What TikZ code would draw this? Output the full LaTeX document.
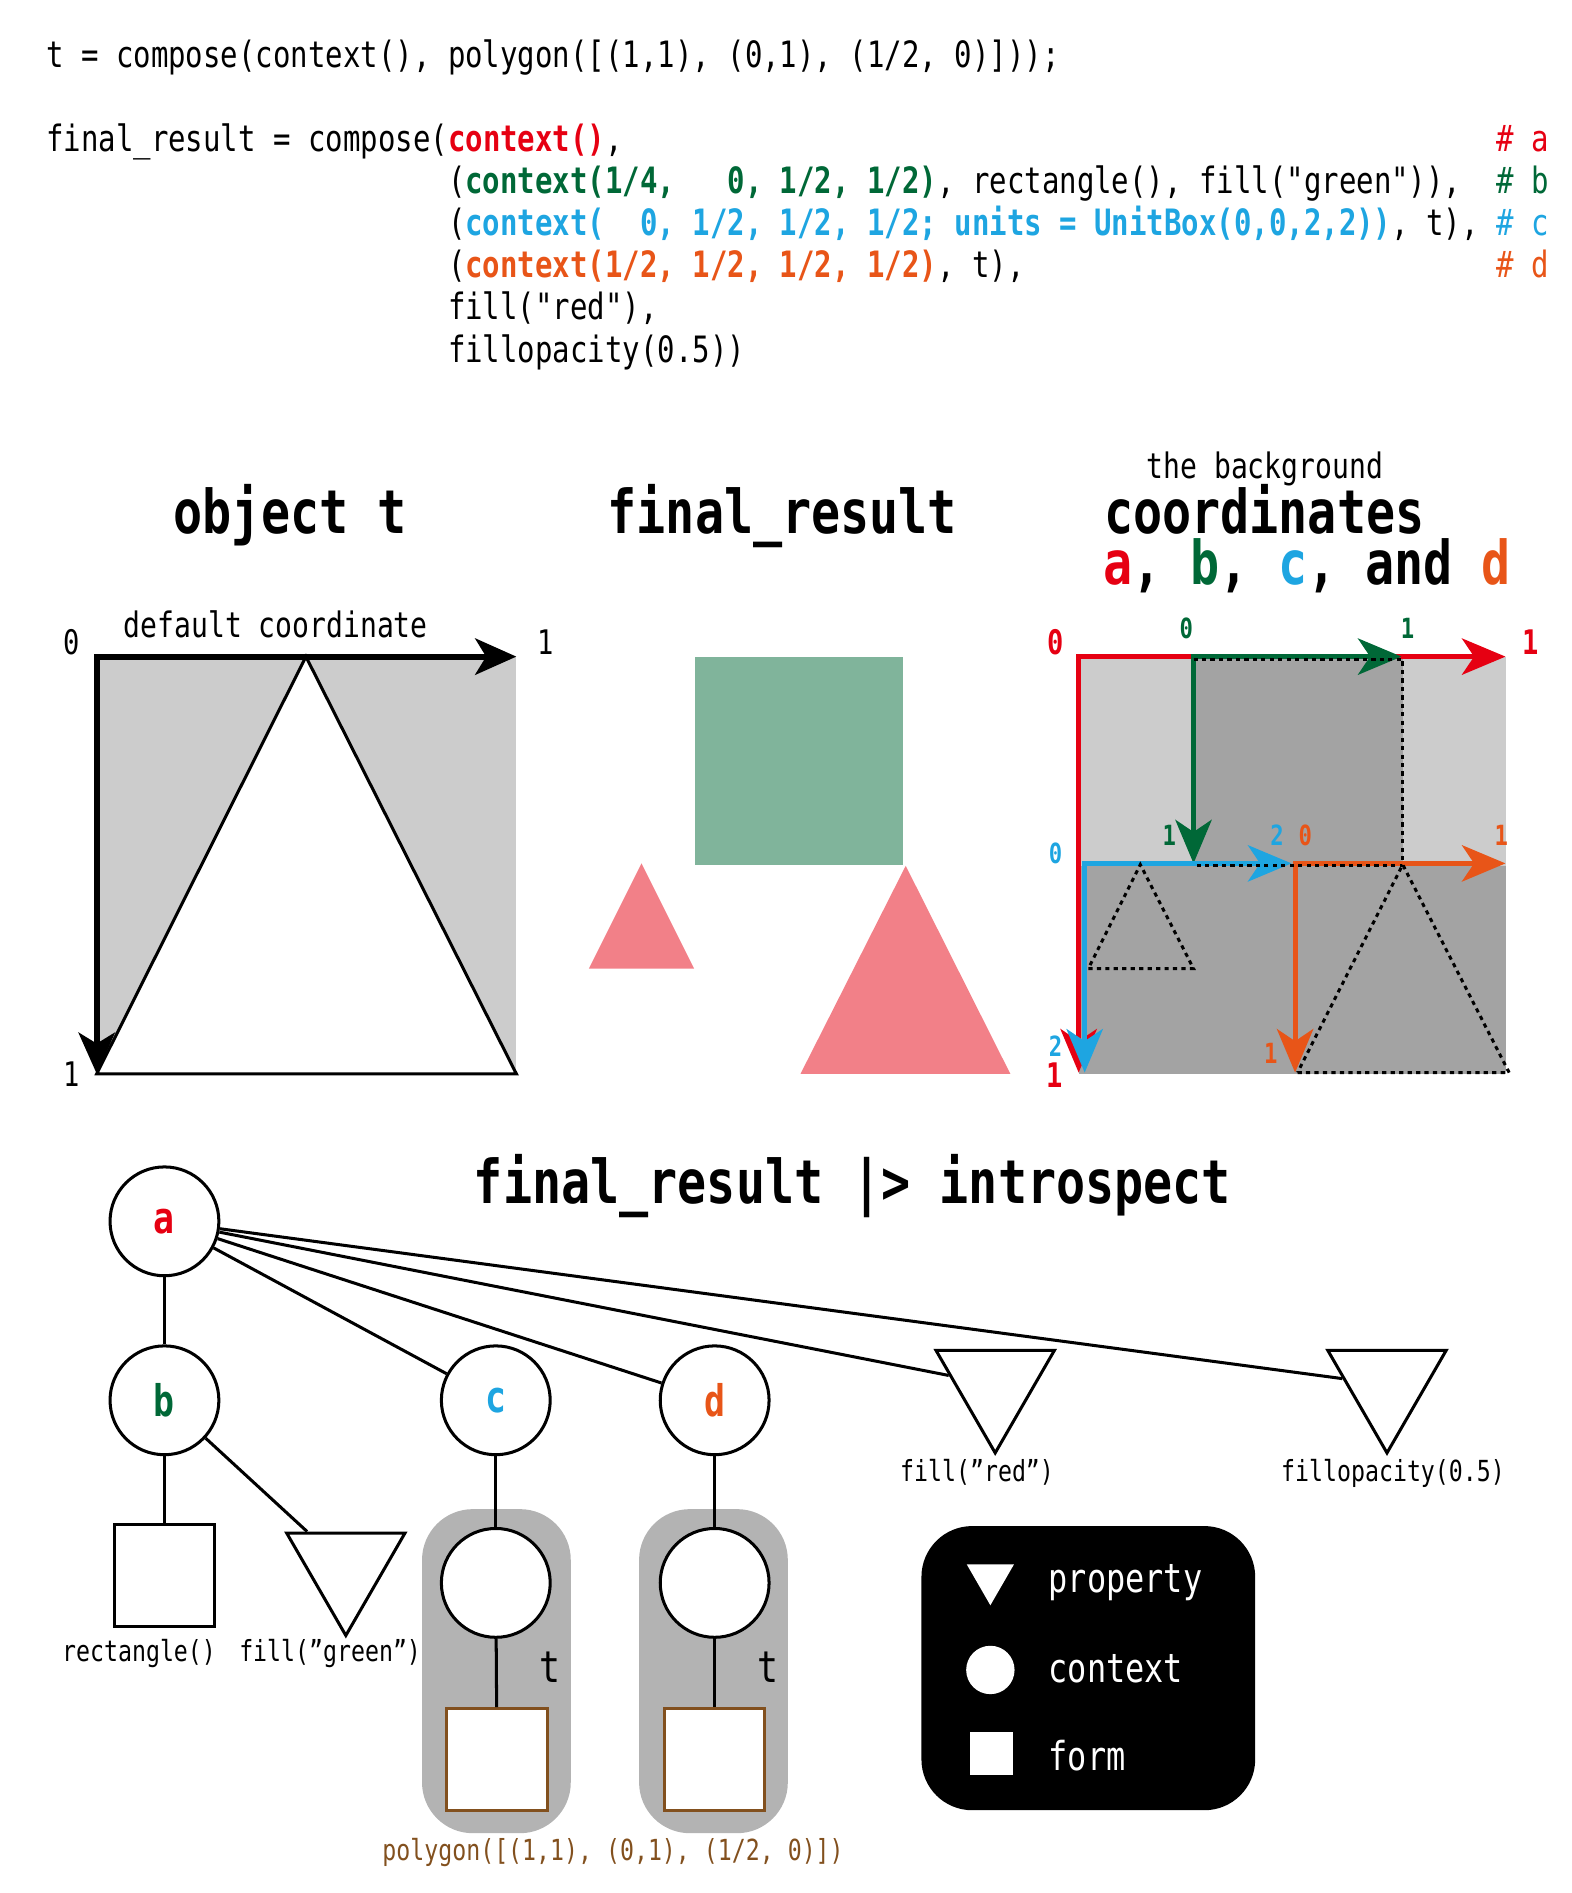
\documentclass[tikz,border=0pt]{standalone}
\usepackage{fontspec}
\usetikzlibrary{arrows.meta,shapes.geometric}
\newfontfamily\cf{DejaVu Sans Mono}[FakeStretch=0.8]
\newcommand\fsz[1]{\fontsize{#1}{#1}\selectfont}
\definecolor{cred}{RGB}{230,0,18}
\definecolor{cgreen}{RGB}{0,104,55}
\definecolor{cblue}{RGB}{30,165,225}
\definecolor{corange}{RGB}{232,85,24}
\definecolor{cbrown}{RGB}{130,80,30}
\definecolor{lgray}{RGB}{204,204,204}
\definecolor{dgray}{RGB}{163,163,163}
\definecolor{bgray}{RGB}{179,179,179}
\definecolor{gsq}{RGB}{128,180,155}
\definecolor{pinkt}{RGB}{242,128,136}
\tikzset{
 code/.style={font=\cf\fsz{30}\frenchspacing, inner sep=0pt, anchor=base west},
 ttl/.style={font=\cf\bfseries\fsz{50}\frenchspacing, inner sep=0pt, anchor=base},
 sub/.style={font=\cf\fsz{29}\frenchspacing, inner sep=0pt, anchor=base},
 axk/.style={line width=5pt, {Stealth[length=34pt,width=30pt,inset=9pt]}-{Stealth[length=34pt,width=30pt,inset=9pt]}},
 axc/.style={line width=4pt, {Stealth[length=36pt,width=30pt,inset=10pt]}-{Stealth[length=36pt,width=30pt,inset=10pt]}},
 dots/.style={line width=2.5pt, dash pattern=on 3.5pt off 3.5pt},
 conn/.style={line width=2.5pt},
 ctx/.style={circle, draw, line width=2.5pt, minimum size=90pt, inner sep=0pt, fill=white, font=\cf\bfseries\fsz{36}},
 prop/.style={regular polygon, regular polygon sides=3, shape border rotate=180, draw, line width=2.5pt, minimum size=113pt, inner sep=0pt, fill=white},
 form/.style={rectangle, draw, line width=2.5pt, minimum width=83pt, minimum height=84pt, inner sep=0pt, fill=white},
 lbl/.style={font=\cf\fsz{24}\frenchspacing, inner sep=0pt, anchor=base},
 num/.style={font=\cf\fsz{28}, inner sep=0pt},
 bnum/.style={font=\cf\bfseries\fsz{23}, inner sep=0pt},
 rnum/.style={font=\cf\bfseries\fsz{28}, inner sep=0pt, text=cred},
 leg/.style={font=\cf\fsz{33}, inner sep=0pt, anchor=base west, text=white},
}
\begin{document}
\begin{tikzpicture}[x=1pt,y=-1pt]
\useasboundingbox (0,0) rectangle (1300,1565.46);

% ---------- code ----------
\node[code] (code1) at (38,56) {t = compose(context(), polygon([(1,1), (0,1), (1/2, 0)]));};
\node[code] (code2) at (38,125.4) {final\_result = compose(\textcolor{cred}{\bfseries context()},};
\node[code] (code3) at (370.3,160.2) {(\textcolor{cgreen}{\bfseries context(1/4,\ \ \ 0, 1/2, 1/2)}, rectangle(), fill("green")),};
\node[code] (code4) at (370.3,195) {(\textcolor{cblue}{\bfseries context(\ \ 0, 1/2, 1/2, 1/2; units = UnitBox(0,0,2,2))}, t),};
\node[code] (code5) at (370.3,229.8) {(\textcolor{corange}{\bfseries context(1/2, 1/2, 1/2, 1/2)}, t),};
\node[code] (code6) at (370.3,264.6) {fill("red"),};
\node[code] (code7) at (370.3,299.4) {fillopacity(0.5))};
\node[code, text=cred] (cma) at (1237.2,125.4) {\# a};
\node[code, text=cgreen] (cmb) at (1237.2,160.2) {\# b};
\node[code, text=cblue] (cmc) at (1237.2,195) {\# c};
\node[code, text=corange] (cmd) at (1237.2,229.8) {\# d};

% ---------- titles ----------
\node[ttl] (t1) at (240,441.5) {object t};
\node[ttl] (t2) at (647,441.5) {final\_result};
\node[sub] (t3a) at (1046,396) {the background};
\node[ttl] (t3b) at (1045.5,441.5) {coordinates};
\node[ttl] (t3c) at (1081,483) {\textcolor{cred}{a}, \textcolor{cgreen}{b}, \textcolor{cblue}{c}, and \textcolor{corange}{d}};

% ---------- object t ----------
\fill[lgray] (80,543) rectangle (427,888);
\draw[line width=2.5pt, fill=white, line join=miter] (80,888) -- (427,888) -- (253,543) -- cycle;
\draw[axk] (427,543) -- (80,543) -- (80,888);
\node[sub] (dc) at (228,527) {default coordinate};
\node[num] (n0) at (59,531) {0};
\node[num] (n1) at (451,531) {1};
\node[num] (n1b) at (59,888) {1};

% ---------- final_result ----------
\fill[gsq] (575,543) rectangle (747,715);
\fill[pinkt] (487,801) -- (574,801) -- (530.5,714) -- cycle;
\fill[pinkt] (662,888) -- (835.5,888) -- (749,716) -- cycle;

% ---------- coordinates ----------
\fill[lgray] (892,543) rectangle (1245,888);
\fill[dgray] (987,543) rectangle (1160,716);
\fill[dgray] (892,716) rectangle (1245,888);
\draw[axc, cred] (1245,543) -- (892,543) -- (892,887);
\draw[axc, cgreen] (1159,543) -- (987,543) -- (987,714);
\draw[axc, cblue] (1068,714) -- (897,714) -- (897,887);
\draw[axc, corange] (1245,714) -- (1071,714) -- (1071,887);
\draw[dots] (987,545) -- (1160,545) -- (1160,716) -- (987,716);
\draw[dots] (900,801) -- (987,801) -- (943,715) -- cycle;
\draw[dots] (1073,887) -- (1248,887) -- (1160,715) -- cycle;
\node[rnum] (r0) at (872.6,531) {0};
\node[rnum] (r1) at (1266,531) {1};
\node[rnum] (r1b) at (872,889) {1};
\node[bnum, text=cgreen] (g0) at (981,520) {0};
\node[bnum, text=cgreen] (g1) at (1164,520) {1};
\node[bnum, text=cgreen] (g1b) at (967,691) {1};
\node[bnum, text=cblue] (b0) at (873,706) {0};
\node[bnum, text=cblue] (b2) at (1056,691) {2};
\node[bnum, text=cblue] (b2b) at (873,865) {2};
\node[bnum, text=corange] (o0) at (1079.5,691) {0};
\node[bnum, text=corange] (o1) at (1241.5,691) {1};
\node[bnum, text=corange] (o1b) at (1051,871) {1};

% ---------- introspect tree ----------
\node[ttl] (t4) at (705,995) {final\_result |> introspect};

\node[fill=bgray, rounded corners=42pt, minimum width=123pt, minimum height=268pt, inner sep=0pt] (grpc) at (410.5,1382) {};
\node[fill=bgray, rounded corners=42pt, minimum width=123pt, minimum height=268pt, inner sep=0pt] (grpd) at (590,1382) {};

\node[ctx] (a) at (136,1010) {\textcolor{cred}{a}};
\node[ctx] (b) at (136,1158) {\textcolor{cgreen}{b}};
\node[ctx] (c) at (410,1158) {\textcolor{cblue}{c}};
\node[ctx] (d) at (591,1158) {\textcolor{corange}{d}};
\node[ctx] (c2) at (410,1309) {};
\node[ctx] (d2) at (591,1309) {};
\node[prop] (pr) at (823,1145) {};
\node[prop] (po) at (1147,1145) {};
\node[prop] (pg) at (286,1296) {};
\node[form] (rect) at (136,1303) {};
\node[form, draw=cbrown] (fc) at (411,1455) {};
\node[form, draw=cbrown] (fd) at (591,1455) {};

\draw[conn] (a) -- (b);
\draw[conn] (a) -- (c);
\draw[conn] (a) -- (d);
\draw[conn] (a) -- (pr);
\draw[conn] (a) -- (po);
\draw[conn] (b) -- (rect);
\draw[conn] (b) -- (pg);
\draw[conn] (c) -- (c2);
\draw[conn] (c2) -- (fc);
\draw[conn] (d) -- (d2);
\draw[conn] (d2) -- (fd);

\node[font=\cf\fsz{36}, inner sep=0pt, anchor=base] (tc) at (455,1391) {t};
\node[font=\cf\fsz{36}, inner sep=0pt, anchor=base] (td) at (635,1391) {t};

\node[lbl] (lpr) at (808,1225) {fill(”red”)};
\node[lbl] (lpo) at (1152,1225) {fillopacity(0.5)};
\node[lbl] (lrect) at (115,1374) {rectangle()};
\node[lbl] (lpg) at (273,1374) {fill(”green”)};
\node[lbl, text=cbrown] (lpoly) at (507,1538.5) {polygon([(1,1), (0,1), (1/2, 0)])};

% ---------- legend ----------
\node[fill=black, rounded corners=42pt, minimum width=276pt, minimum height=235pt, inner sep=0pt] (legend) at (900,1379.5) {};
\node[regular polygon, regular polygon sides=3, shape border rotate=180, fill=white, minimum size=45pt, inner sep=0pt] (legp) at (819,1305) {};
\node[circle, fill=white, minimum size=40pt, inner sep=0pt] (legc) at (819,1381) {};
\node[rectangle, fill=white, minimum width=35pt, minimum height=36pt, inner sep=0pt] (legf) at (820,1450) {};
\node[leg] (legpt) at (867,1317) {property};
\node[leg] (legct) at (867,1391) {context};
\node[leg] (legft) at (867,1464) {form};
\end{tikzpicture}
\end{document}
